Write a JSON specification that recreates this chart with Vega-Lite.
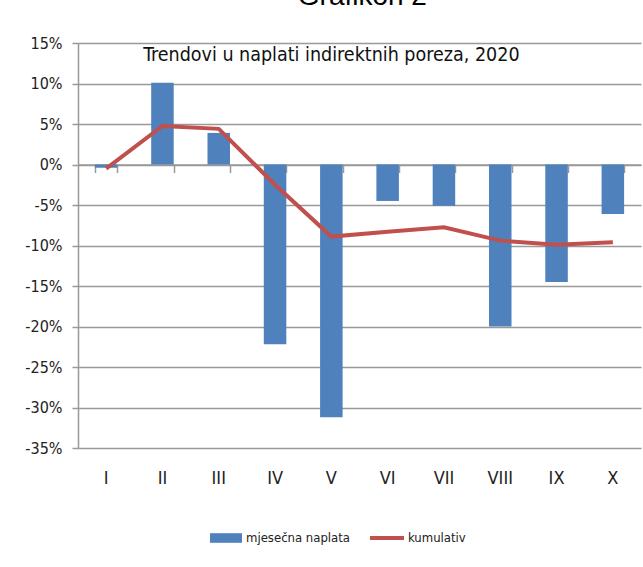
{
  "$schema": "https://vega.github.io/schema/vega-lite/v6.json",
  "width": 563,
  "height": 405,
  "autosize": {"type": "none"},
  "padding": {"left": 78, "top": 43, "right": 2, "bottom": 119},
  "background": "white",
  "config": {"view": {"stroke": null}, "font": "DejaVu Sans Condensed, Lato, sans-serif"},
  "data": {"values": [
    {"mjesec": "I", "mjesecna": -0.004, "kumulativ": -0.005},
    {"mjesec": "II", "mjesecna": 0.101, "kumulativ": 0.0475},
    {"mjesec": "III", "mjesecna": 0.039, "kumulativ": 0.044},
    {"mjesec": "IV", "mjesecna": -0.222, "kumulativ": -0.025},
    {"mjesec": "V", "mjesecna": -0.312, "kumulativ": -0.089},
    {"mjesec": "VI", "mjesecna": -0.045, "kumulativ": -0.083},
    {"mjesec": "VII", "mjesecna": -0.051, "kumulativ": -0.0775},
    {"mjesec": "VIII", "mjesecna": -0.2, "kumulativ": -0.094},
    {"mjesec": "IX", "mjesecna": -0.145, "kumulativ": -0.099},
    {"mjesec": "X", "mjesecna": -0.061, "kumulativ": -0.096}
  ]},
  "layer": [
    {
      "mark": {"type": "bar", "color": "#4F81BD"},
      "encoding": {
        "x": {"field": "mjesec", "type": "nominal", "sort": null,
          "scale": {"domain": ["I","II","III","IV","V","VI","VII","VIII","IX","X"], "paddingInner": 0.6, "paddingOuter": 0.3},
          "axis": {"title": null, "labelAngle": 0, "domain": false, "ticks": false, "grid": false, "labelPadding": 21, "labelFontSize": 18, "labelColor": "#222", "labelFont": "DejaVu Sans Condensed, Lato, sans-serif"}},
        "y": {"field": "mjesecna", "type": "quantitative",
          "scale": {"domain": [-0.35, 0.15], "nice": false, "zero": false},
          "axis": {"title": null, "values": [-0.35,-0.3,-0.25,-0.2,-0.15,-0.1,-0.05,0,0.05,0.1,0.15], "labelExpr": "round(datum.value*100)+'%'", "grid": true, "gridColor": "#999", "gridWidth": 1.5, "domainColor": "#999", "domainWidth": 1.5, "tickColor": "#999", "tickWidth": 1.5, "tickSize": 6, "labelPadding": 10, "labelFontSize": 16, "labelColor": "#222", "labelFont": "DejaVu Sans Condensed, Lato, sans-serif"}},
        "fill": {"datum": "mjesečna naplata", "type": "nominal", "scale": {"range": ["#4F81BD"]},
          "legend": {"orient": "none", "legendX": 132, "legendY": 479, "title": null, "symbolType": "M-1,-0.3H1V0.3H-1Z", "symbolSize": 1024, "symbolStrokeWidth": 0, "labelFontSize": 13, "labelFont": "DejaVu Sans Condensed, Lato, sans-serif", "labelColor": "#222", "labelOffset": 4}}
      }
    },
    {
      "mark": {"type": "line", "color": "#C0504D", "strokeWidth": 4},
      "encoding": {
        "x": {"field": "mjesec", "type": "nominal", "sort": null,
          "axis": {"title": null, "orient": "bottom", "offset": -283.5, "labels": false, "grid": false, "domainColor": "#999", "domainWidth": 1.5, "tickColor": "#999", "tickWidth": 1.5, "tickSize": 8, "tickBand": "extent"}},
        "y": {"field": "kumulativ", "type": "quantitative", "axis": {"title": null}},
        "stroke": {"datum": "kumulativ", "type": "nominal", "scale": {"range": ["#C0504D"]},
          "legend": {"orient": "none", "legendX": 290, "legendY": 476, "title": null, "symbolType": "stroke", "symbolSize": 1156, "symbolStrokeWidth": 4, "labelFontSize": 13, "labelFont": "DejaVu Sans Condensed, Lato, sans-serif", "labelColor": "#222", "labelOffset": 2}}
      }
    },
    {
      "data": {"values": [{"naslov": "Trendovi u naplati indirektnih poreza, 2020"}]},
      "mark": {"type": "text", "fontSize": 19.5, "font": "DejaVu Sans Condensed, Lato, sans-serif", "color": "#111", "align": "center", "baseline": "alphabetic"},
      "encoding": {
        "x": {"datum": "V", "type": "nominal", "axis": null},
        "y": {"datum": 0.128, "type": "quantitative", "axis": {"title": null}},
        "text": {"field": "naslov", "type": "nominal"}
      }
    },
    {
      "data": {"values": [{"naslov": "Grafikon 2"}]},
      "mark": {"type": "text", "fontSize": 28, "font": "Liberation Sans", "color": "#000", "align": "center", "baseline": "alphabetic", "dx": 31},
      "encoding": {
        "x": {"datum": "V", "type": "nominal", "axis": null},
        "y": {"datum": 0.197, "type": "quantitative", "axis": {"title": null}},
        "text": {"field": "naslov", "type": "nominal"}
      }
    }
  ],
  "resolve": {"axis": {"x": "independent"}}
}
